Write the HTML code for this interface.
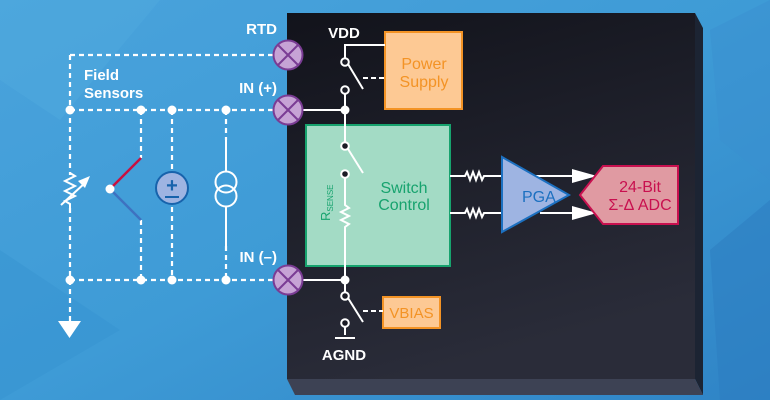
<!DOCTYPE html>
<html><head><meta charset="utf-8"><style>
html,body{margin:0;padding:0;width:770px;height:400px;overflow:hidden}
svg{display:block}
text{font-family:"Liberation Sans","DejaVu Sans",sans-serif}
</style></head><body>
<svg width="770" height="400" viewBox="0 0 770 400" xmlns="http://www.w3.org/2000/svg">
<defs>
<linearGradient id="bg" x1="0" y1="0" x2="1" y2="1">
<stop offset="0" stop-color="#4aa3dc"/><stop offset="0.5" stop-color="#3e9bd6"/><stop offset="1" stop-color="#2f84c6"/>
</linearGradient>
<linearGradient id="chip" x1="0" y1="0" x2="0.3" y2="1">
<stop offset="0" stop-color="#12131b"/><stop offset="1" stop-color="#2a2c39"/>
</linearGradient>
</defs>
<rect width="770" height="400" fill="url(#bg)"/>
<polygon points="0,0 160,0 60,120 0,80" fill="#52acdf" opacity="0.4"/>
<polygon points="0,250 120,330 0,400" fill="#3591cf" opacity="0.4"/>
<polygon points="710,30 770,0 770,180 720,140" fill="#3a8fd0" opacity="0.5"/>
<polygon points="710,250 770,200 770,400 720,400" fill="#2c7cc0" opacity="0.5"/>
<!-- chip -->
<polygon points="695,13 703,28 703,395 695,379" fill="#1c2433"/>
<polygon points="287,379 695,379 703,395 295,395" fill="#3d4254"/>
<rect x="287" y="13" width="408" height="366" fill="url(#chip)"/>

<g stroke="#fff" stroke-width="2.2" fill="none" stroke-dasharray="5,4">
<path d="M70,55 H274"/>
<path d="M70,110 H274"/>
<path d="M70,280 H274"/>
<path d="M70,55 V175"/>
<path d="M70,208 V322"/>
<path d="M141,110 V158"/>
<path d="M141,220 V280"/>
<path d="M172,110 V170"/>
<path d="M172,207 V280"/>
<path d="M226,110 V140"/>
<path d="M226,246 V280"/>
</g>
<g stroke="#fff" stroke-width="2" fill="none">
<path d="M70,173 l5,3 l-10,5 l10,5 l-10,5 l10,5 l-10,5 l5,3 V210"/>
<path d="M61,205 L86,182"/>
</g>
<polygon points="90,176 78,181 85,188" fill="#fff"/>
<line x1="110" y1="189" x2="141" y2="158" stroke="#c8103f" stroke-width="2.5"/>
<line x1="110" y1="189" x2="141" y2="220" stroke="#3e72c0" stroke-width="2.5"/>
<circle cx="110" cy="189" r="4.5" fill="#fff"/>
<circle cx="172" cy="188" r="16" fill="#9eb4e2" stroke="#1763ac" stroke-width="2"/>
<text x="172" y="192" font-size="20" fill="#1763ac" text-anchor="middle" font-weight="bold">+</text>
<line x1="165" y1="197" x2="179" y2="197" stroke="#1763ac" stroke-width="2"/>
<g stroke="#fff" stroke-width="2" fill="none">
<line x1="226" y1="139" x2="226" y2="172"/>
<circle cx="226" cy="182" r="10.5"/>
<circle cx="226" cy="196" r="10.5"/>
<line x1="226" y1="207" x2="226" y2="247"/>
</g>
<polygon points="58,321 81,321 69.5,338" fill="#fff"/>
<g fill="#fff">
<circle cx="70" cy="110" r="4.5"/><circle cx="141" cy="110" r="4.5"/><circle cx="172" cy="110" r="4.5"/><circle cx="226" cy="110" r="4.5"/>
<circle cx="70" cy="280" r="4.5"/><circle cx="141" cy="280" r="4.5"/><circle cx="172" cy="280" r="4.5"/><circle cx="226" cy="280" r="4.5"/>
</g>
<text x="84" y="80" font-size="15" fill="#fff" font-weight="bold">Field</text>
<text x="84" y="98" font-size="15" fill="#fff" font-weight="bold">Sensors</text>
<text x="277" y="34" font-size="15" fill="#fff" text-anchor="end" font-weight="bold">RTD</text>
<text x="277" y="93" font-size="15" fill="#fff" text-anchor="end" font-weight="bold">IN (+)</text>
<text x="277" y="262" font-size="15" fill="#fff" text-anchor="end" font-weight="bold">IN (–)</text>

<rect x="385" y="32" width="77" height="77" fill="#fdc994" stroke="#f39325" stroke-width="2"/>
<text x="424" y="69" font-size="16" fill="#f39325" text-anchor="middle">Power</text>
<text x="424" y="87" font-size="16" fill="#f39325" text-anchor="middle">Supply</text>
<rect x="306" y="125" width="144" height="141" fill="#a3dbc5" stroke="#17a36e" stroke-width="2"/>
<text x="404" y="193" font-size="16" fill="#17a36e" text-anchor="middle">Switch</text>
<text x="404" y="210" font-size="16" fill="#17a36e" text-anchor="middle">Control</text>
<text transform="translate(330,221) rotate(-90)" font-size="13" fill="#17a36e">R<tspan font-size="8" dy="3">SENSE</tspan></text>
<rect x="383" y="297" width="57" height="31" fill="#fdc994" stroke="#f39325" stroke-width="2"/>
<text x="411.5" y="318" font-size="15" fill="#f39325" text-anchor="middle">VBIAS</text>

<g stroke="#fff" stroke-width="2" fill="none">
<path d="M303,110 H345"/>
<path d="M303,280 H345"/>
<path d="M385,45 H345 V59"/>
<path d="M345,94 V143"/>
<path d="M348,64 L363,89"/>
<path d="M348,149 L363,173"/>
<path d="M345,178 V205 l4,3 l-8,4 l8,4 l-8,4 l8,4 l-4,3 V293"/>
<path d="M348,298 L363,322"/>
<path d="M345,326 V335 M335,338 H355"/>
<path d="M363,78 H384" stroke-dasharray="5,3"/>
<path d="M363,311 H383" stroke-dasharray="5,3"/>
<path d="M450,176 H465 l2,-4 l3,8 l3,-8 l3,8 l3,-8 l3,8 l2,-4 H502"/>
<path d="M450,213 H465 l2,-4 l3,8 l3,-8 l3,8 l3,-8 l3,8 l2,-4 H502"/>
</g>
<g fill="#fff">
<circle cx="345" cy="110" r="4.5"/><circle cx="345" cy="280" r="4.5"/>
</g>
<g fill="#1a1b25" stroke="#fff" stroke-width="2">
<circle cx="345" cy="62" r="3.8"/><circle cx="345" cy="90" r="3.8"/>
<circle cx="345" cy="146" r="3.8"/><circle cx="345" cy="174" r="3.8"/>
<circle cx="345" cy="296" r="3.8"/><circle cx="345" cy="323" r="3.8"/>
</g>
<text x="344" y="360" font-size="15" fill="#fff" text-anchor="middle" font-weight="bold">AGND</text>
<text x="344" y="38" font-size="15" fill="#fff" text-anchor="middle" font-weight="bold">VDD</text>

<g stroke="#fff" stroke-width="2"><line x1="530" y1="176" x2="578" y2="176"/><line x1="540" y1="213" x2="578" y2="213"/></g>
<polygon points="502,157 502,232 569,195" fill="#9eb4e2" stroke="#1c70c0" stroke-width="2"/>
<text x="522" y="202" font-size="16" fill="#1c70c0">PGA</text>
<polygon points="572,169 597,176 572,183" fill="#fff"/>
<polygon points="572,206 597,213 572,220" fill="#fff"/>
<polygon points="580,195 603,166 678,166 678,224 603,224" fill="#e09aa2" stroke="#c8104f" stroke-width="2"/>
<text x="640" y="192" font-size="16" fill="#c8104f" text-anchor="middle">24-Bit</text>
<text x="640" y="210" font-size="16" fill="#c8104f" text-anchor="middle">Σ-Δ ADC</text>

<g stroke="#7a3c94" stroke-width="2">
<circle cx="288" cy="55" r="14.5" fill="#c6a3d5"/>
<circle cx="288" cy="110" r="14.5" fill="#c6a3d5"/>
<circle cx="288" cy="280" r="14.5" fill="#c6a3d5"/>
<path d="M278,45 L298,65 M298,45 L278,65 M278,100 L298,120 M298,100 L278,120 M278,270 L298,290 M298,270 L278,290"/>
</g>
</svg>
</body></html>
